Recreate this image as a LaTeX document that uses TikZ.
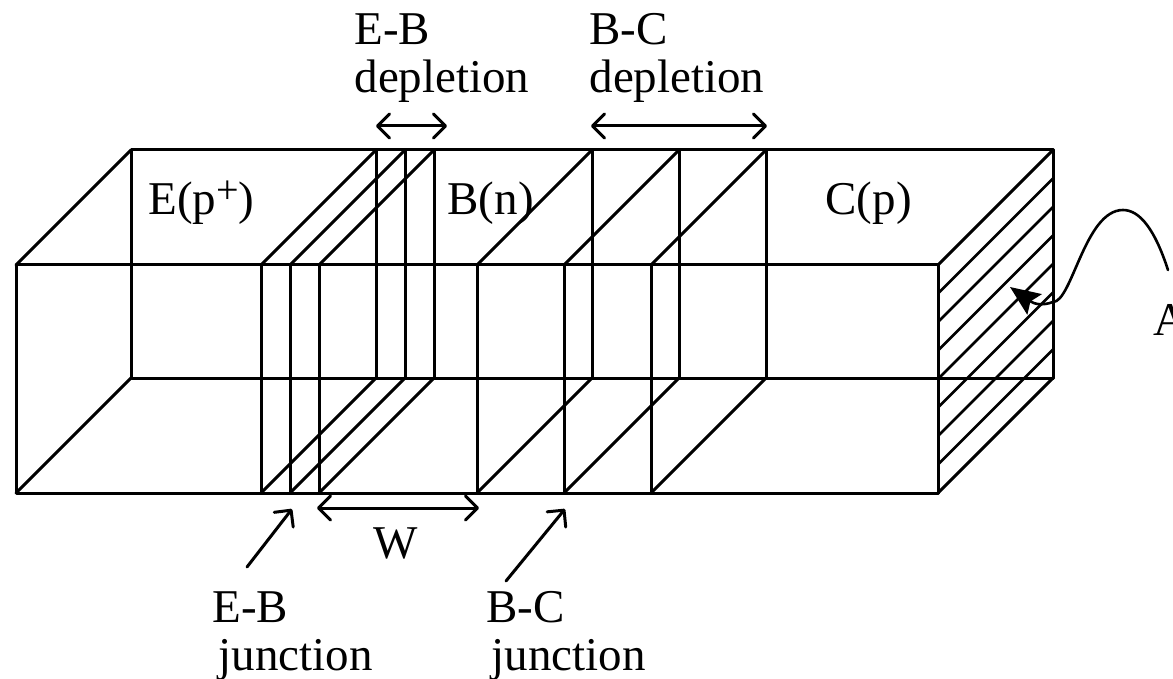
\documentclass[tikz,border=0pt]{standalone}
\usepackage{fontspec}
\setmainfont{Liberation Serif}
\usetikzlibrary{arrows.meta,positioning}

\begin{document}
\begin{tikzpicture}[
  x=1pt, y=-1pt,
  line width=3pt,
  line cap=round,
  line join=round,
  label/.style={inner sep=0pt, align=left, anchor=base west, font=\fontsize{47}{48}\selectfont},
  dimarrow/.style={{Straight Barb[round,length=12pt,width=24pt,line width=3pt]}-{Straight Barb[round,length=12pt,width=24pt,line width=3pt]}},
  pointer/.style={-{Straight Barb[round,length=12pt,width=24pt,line width=3pt]}},
]
\useasboundingbox (0,0) rectangle (1173,679);

% box corners
\coordinate (ftl) at (16,265);
\coordinate (fbl) at (16,493);
\coordinate (ftr) at (938,265);
\coordinate (fbr) at (938,493);
\coordinate (btl) at (131,150);
\coordinate (bbl) at (131,378);
\coordinate (btr) at (1053,150);
\coordinate (bbr) at (1053,378);

\draw (ftl) rectangle (fbr);
\draw (btl) rectangle (bbr);
\draw (ftl) -- (btl);
\draw (fbl) -- (bbl);
\draw (ftr) -- (btr);
\draw (fbr) -- (bbr);

% planes
\foreach \px in {261,290,319,477,564,651} {
  \draw (\px,265) -- (\px,493);
  \draw (\px+115,150) -- (\px+115,378);
  \draw (\px,265) -- (\px+115,150);
  \draw (\px,493) -- (\px+115,378);
}

% hatching of the end face
\foreach \k in {1,...,7} {
  \draw[line width=2.7pt] (938,265+28.5*\k) -- (1053,150+28.5*\k);
}

\node[label] (emitter) at (147,215) {E(p\raisebox{12pt}{\fontsize{40}{40}\selectfont +})};
\node[label] (base) at (446,215) {B(n)};
\node[label] (collector) at (824,215) {C(p)};
\node[label] (area) at (1152,335) {A};
\node[label] (ebdep) at (353,93) {E-B\\depletion};
\node[label] (bcdep) at (588,93) {B-C\\depletion};
\node[label] (width) at (372,558) {W};
\node[label] (ebjun) at (211,670) {E-B\\\hspace*{6pt}junction};
\node[label] (bcjun) at (485,670) {B-C\\\hspace*{5pt}junction};

\coordinate (ebl) at (376,126);
\coordinate (ebr) at (447,126);
\coordinate (bcl) at (591,126);
\coordinate (bcr) at (767,126);
\coordinate (wl) at (317,508);
\coordinate (wr) at (479,508);
\coordinate (ebfrom) at (247,567);
\coordinate (ebto) at (292,509);
\coordinate (bcfrom) at (506,581);
\coordinate (bcto) at (565,509);
\coordinate (afrom) at (1168,270);
\coordinate (apeak) at (1123,210);
\coordinate (aedge) at (1053,302);
\coordinate (ato) at (1010,287);

\draw[dimarrow] (ebl) -- (ebr);
\draw[dimarrow] (bcl) -- (bcr);
\draw[dimarrow] (wl) -- (wr);
\draw[pointer] (ebfrom) -- (ebto);
\draw[pointer] (bcfrom) -- (bcto);
\draw[line width=2.6pt, -{Stealth[length=30pt,width=25pt,inset=5pt]}] (afrom) .. controls (1155,230) and (1140,210) .. (apeak)
  .. controls (1085,210) and (1072,302) .. (aedge)
  .. controls (1042,306) and (1034,304) .. (ato);
\end{tikzpicture}
\end{document}
